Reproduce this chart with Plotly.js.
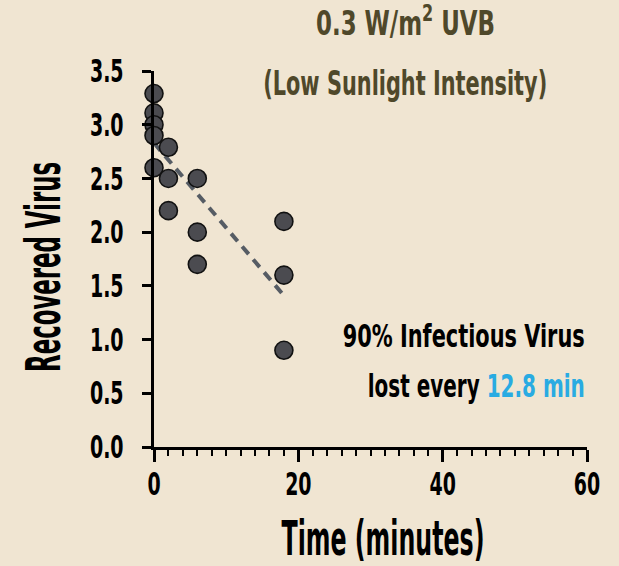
<!DOCTYPE html>
<html>
<head>
<meta charset="utf-8">
<script src="https://cdn.plot.ly/plotly-3.0.1.min.js"></script>
<style>html,body{margin:0;padding:0;background:#f0e5d2;}</style>
</head>
<body>
<div id="chart" style="width:619px;height:566px;"></div>
<script>
// Data
const timeMin = [0, 0, 0, 0, 0, 2, 2, 2, 6, 6, 6, 18, 18, 18];
const recoveredVirus = [3.29, 3.11, 3.00, 2.90, 2.60, 2.79, 2.50, 2.20, 2.50, 2.00, 1.70, 2.10, 1.60, 0.90];
const fitTime = [0, 18];
const fitVirus = [2.83, 1.41];
const xTickVals = [0, 20, 40, 60];
const yTickVals = [0, 0.5, 1, 1.5, 2, 2.5, 3, 3.5];
const titleLine1 = '0.3 W/m<sup>2</sup> UVB';
const titleLine2 = '(Low Sunlight Intensity)';
const noteLine1 = '90% Infectious Virus';
const noteLine2 = 'lost every <span style="color:#29abe2">12.8 min</span>';
const xTitle = 'Time (minutes)';
const yTitle = 'Recovered Virus';

const FONT = '"Liberation Sans Narrow", "DejaVu Sans Condensed", "Liberation Sans", sans-serif';
const BG = '#f0e5d2';
const OLIVE = '#4f482a';

const traces = [
  {
    x: fitTime, y: fitVirus, mode: 'lines', type: 'scatter',
    line: {color: '#565c64', width: 4, dash: '10px,7px'},
    hoverinfo: 'skip', cliponaxis: false
  },
  {
    x: timeMin, y: recoveredVirus, mode: 'markers', type: 'scatter',
    marker: {size: 18, color: '#4b4b50', line: {color: '#111', width: 1.6}},
    cliponaxis: false
  }
];

const layout = {
  width: 619, height: 566,
  paper_bgcolor: BG, plot_bgcolor: BG,
  margin: {l: 154, r: 32, t: 71, b: 119},
  showlegend: false,
  font: {family: FONT, color: '#000'},
  xaxis: {
    range: [0, 60], tickvals: xTickVals, ticktext: xTickVals.map(String),
    showline: true, linewidth: 3, linecolor: '#000',
    ticks: 'outside', ticklen: 12, tickwidth: 3, tickcolor: '#000',
    minor: {dtick: 2, tick0: 0, ticks: 'outside', ticklen: 6, tickwidth: 2, tickcolor: '#000', showgrid: false},
    showgrid: false, zeroline: false,
    tickfont: {family: FONT, size: 32, color: '#000', weight: 'bold'},
    ticklabelstandoff: -5,
    automargin: false, fixedrange: true
  },
  yaxis: {
    range: [0, 3.5], tickvals: yTickVals, ticktext: yTickVals.map(v => v.toFixed(1)),
    showline: true, linewidth: 3, linecolor: '#000',
    ticks: 'outside', ticklen: 9, tickwidth: 3, tickcolor: '#000',
    showgrid: false, zeroline: false,
    tickfont: {family: FONT, size: 32, color: '#000', weight: 'bold'},
    ticklabelstandoff: 12,
    automargin: false, fixedrange: true
  },
  annotations: [
    {text: titleLine1, xref: 'paper', yref: 'paper', x: 0.580, y: 1.133, xanchor: 'center', yanchor: 'middle', align: 'center', showarrow: false,
     font: {family: FONT, size: 34, color: OLIVE, weight: 'bold'}},
    {text: titleLine2, xref: 'paper', yref: 'paper', x: 0.580, y: 0.969, xanchor: 'center', yanchor: 'middle', align: 'center', showarrow: false,
     font: {family: FONT, size: 34, color: OLIVE, weight: 'bold'}},
    {text: noteLine1, xref: 'paper', yref: 'paper', x: 1.0, y: 0.294, xanchor: 'right', yanchor: 'middle', align: 'right', showarrow: false,
     font: {family: FONT, size: 32, color: '#000', weight: 'bold'}},
    {text: noteLine2, xref: 'paper', yref: 'paper', x: 1.0, y: 0.162, xanchor: 'right', yanchor: 'middle', align: 'right', showarrow: false,
     font: {family: FONT, size: 32, color: '#000', weight: 'bold'}},
    {text: xTitle, xref: 'paper', yref: 'paper', x: 0.530, y: -0.241, xanchor: 'center', yanchor: 'middle', align: 'center', showarrow: false,
     font: {family: FONT, size: 48, color: '#000', weight: 'bold'}},
    {text: yTitle, xref: 'paper', yref: 'paper', x: -0.2575, y: 0.479, xanchor: 'center', yanchor: 'middle', align: 'center', showarrow: false, textangle: -90,
     font: {family: FONT, size: 48, color: '#000', weight: 'bold'}}
  ]
};

// Target rendered widths (px) to emulate the narrow display face of the original
const targetWidths = {
  '0.3 W/m2 UVB': 179,
  '(Low Sunlight Intensity)': 284,
  '90% Infectious Virus': 242,
  'lost every 12.8 min': 217,
  'Time (minutes)': 203,
  'Recovered Virus': 210
};
const TICK_FACTOR = 0.66;

function condense(gd) {
  gd.querySelectorAll('svg text').forEach(function (el) {
    const txt = (el.textContent || '').replace(/[\u200b\u200c\u200d\ufeff]/g, '').trim();
    if (!txt) return;
    const len = el.getComputedTextLength();
    if (!len) return;
    let target = targetWidths[txt];
    if (target === undefined) {
      if (/^[0-9.]+$/.test(txt)) target = len * TICK_FACTOR; else return;
    }
    el.setAttribute('textLength', target.toFixed(1));
    el.setAttribute('lengthAdjust', 'spacingAndGlyphs');
  });
}

Plotly.newPlot('chart', traces, layout, {staticPlot: true, displayModeBar: false}).then(function (gd) {
  condense(gd);
});
</script>
</body>
</html>
